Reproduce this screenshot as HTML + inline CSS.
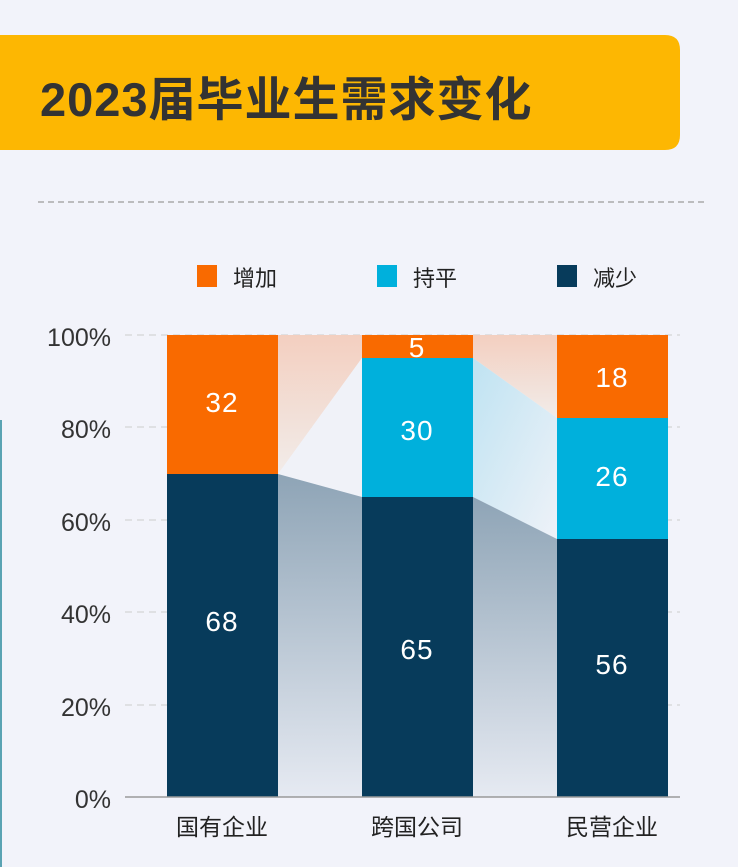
<!DOCTYPE html>
<html><head><meta charset="utf-8"><style>
body{margin:0;width:738px;height:867px;background:#f2f3fa;overflow:hidden;font-family:"Liberation Sans","Noto Sans CJK SC",sans-serif;}
</style></head><body>
<svg width="738" height="867" xmlns="http://www.w3.org/2000/svg" style="position:absolute;left:0;top:0">
<defs>
<linearGradient id="gd" x1="0" y1="0" x2="0" y2="1"><stop offset="0" stop-color="#8ea4b6"/><stop offset="1" stop-color="#e6eaf2"/></linearGradient>
<linearGradient id="go" x1="0" y1="0" x2="0" y2="1"><stop offset="0" stop-color="#f3cfc0"/><stop offset="1" stop-color="#f2ece9"/></linearGradient>
<linearGradient id="gc" x1="0" y1="0" x2="1" y2="1"><stop offset="0" stop-color="#bfe3f2"/><stop offset="1" stop-color="#eef2f8"/></linearGradient>
</defs>
<path d="M0 35 H665 Q680 35 680 50 V135 Q680 150 665 150 H0 Z" fill="#fdb702"/>
<text x="40" y="116" font-size="47" font-weight="bold" fill="#333" letter-spacing="1" font-family="Liberation Sans,Noto Sans CJK SC,sans-serif">2023届毕业生需求变化</text>
<line x1="38" y1="202" x2="705" y2="202" stroke="#aaa" stroke-width="1.5" stroke-dasharray="6,4"/>
<line x1="1" y1="420" x2="1" y2="867" stroke="#5aa3b3" stroke-width="2"/>
<rect x="197" y="265" width="20" height="22" fill="#f96a00"/><text x="233" y="286" font-size="22" fill="#222">增加</text>
<rect x="377" y="265" width="20" height="22" fill="#00b0dc"/><text x="413" y="286" font-size="22" fill="#222">持平</text>
<rect x="557" y="265" width="20" height="22" fill="#073b5b"/><text x="593" y="286" font-size="22" fill="#222">减少</text>
<g stroke="#ccc" stroke-dasharray="7,5" stroke-width="1">
<line x1="125" y1="335" x2="680" y2="335"/><line x1="125" y1="427" x2="680" y2="427"/><line x1="125" y1="520" x2="680" y2="520"/><line x1="125" y1="612" x2="680" y2="612"/><line x1="125" y1="705" x2="680" y2="705"/></g>
<g font-size="25" fill="#333" text-anchor="end">
<text x="111" y="346">100%</text><text x="111" y="438">80%</text><text x="111" y="531">60%</text><text x="111" y="623">40%</text><text x="111" y="716">20%</text><text x="111" y="808">0%</text></g>
<polygon points="278,335 362,335 362,358 278,474" fill="url(#go)"/>
<polygon points="278,474 362,358 362,497" fill="#f0f2f8"/>
<polygon points="278,474 362,497 362,797 278,797" fill="url(#gd)"/>
<polygon points="473,335 557,335 557,418 473,358" fill="url(#go)"/>
<polygon points="473,358 557,418 557,539 473,497" fill="url(#gc)"/>
<polygon points="473,497 557,539 557,797 473,797" fill="url(#gd)"/>
<rect x="167" y="335" width="111" height="139" fill="#f96a00"/><rect x="167" y="474" width="111" height="323" fill="#073b5b"/>
<rect x="362" y="335" width="111" height="23" fill="#f96a00"/><rect x="362" y="358" width="111" height="139" fill="#00b0dc"/><rect x="362" y="497" width="111" height="300" fill="#073b5b"/>
<rect x="557" y="335" width="111" height="83" fill="#f96a00"/><rect x="557" y="418" width="111" height="121" fill="#00b0dc"/><rect x="557" y="539" width="111" height="258" fill="#073b5b"/>
<line x1="125" y1="797" x2="680" y2="797" stroke="#999" stroke-width="1.5"/>
<g font-size="28" fill="#fff" text-anchor="middle" letter-spacing="1">
<text x="222" y="412">32</text><text x="222" y="631">68</text>
<text x="417" y="357">5</text><text x="417" y="440">30</text><text x="417" y="659">65</text>
<text x="612" y="387">18</text><text x="612" y="486">26</text><text x="612" y="674">56</text></g>
<g font-size="23" fill="#222" text-anchor="middle">
<text x="222" y="835">国有企业</text><text x="417" y="835">跨国公司</text><text x="612" y="835">民营企业</text></g>
</svg>
</body></html>
